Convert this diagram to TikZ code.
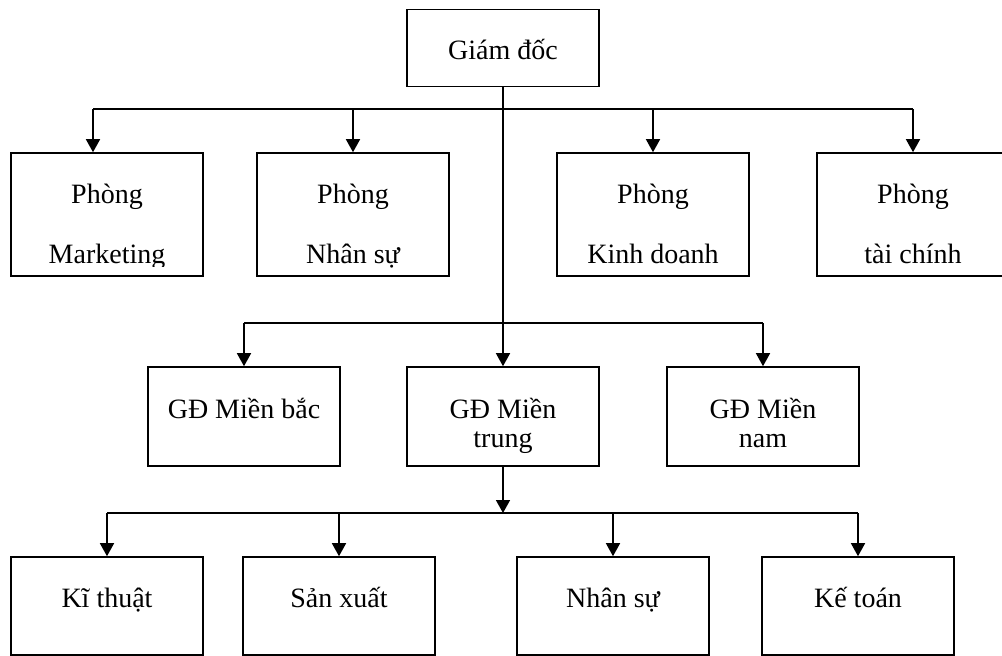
\documentclass[tikz,border=0pt]{standalone}
\usepackage{fontspec}
\setmainfont{Liberation Serif}
\usetikzlibrary{arrows.meta}
\begin{document}
\begin{tikzpicture}[x=1pt,y=-1pt,
  unit/.style={draw, line width=1.6pt, rectangle, inner sep=0pt},
  dept/.style={unit, minimum width=192pt, minimum height=123pt},
  region/.style={unit, minimum width=192pt, minimum height=99pt},
  team/.style={unit, minimum width=192pt, minimum height=98pt},
  lbl/.style={anchor=base, inner sep=0pt, font=\fontsize{28}{31}\selectfont},
  link/.style={line width=1.5pt},
  arr/.style={link, -{Triangle[width=14pt,length=13pt]}}]
\useasboundingbox (0,0) rectangle (1002,656);

% director
\node[unit, minimum width=192pt, minimum height=77pt] (gd) at (503,48) {};
\node[lbl] (gdt) at (503,59) {Giám đốc};

% departments
\node[dept] (mk) at (107,214.5) {};
\node[dept] (ns) at (353,214.5) {};
\node[dept] (kd) at (653,214.5) {};
\node[dept] (tc) at (913,214.5) {};
\begin{scope}
  \clip (11,153) rectangle (203,266.5);
  \node[lbl] (mk1) at (107,203) {Phòng};
  \node[lbl] (mk2) at (107,263) {Marketing};
\end{scope}
\node[lbl] (ns1) at (353,203) {Phòng};
\node[lbl] (ns2) at (353,263) {Nhân sự};
\node[lbl] (kd1) at (653,203) {Phòng};
\node[lbl] (kd2) at (653,263) {Kinh doanh};
\node[lbl] (tc1) at (913,203) {Phòng};
\node[lbl] (tc2) at (913,263) {tài chính};

% regional directors
\node[region] (mb) at (244,416.5) {};
\node[region] (mt) at (503,416.5) {};
\node[region] (mn) at (763,416.5) {};
\node[lbl] (mbt) at (244,418) {GĐ Miền bắc};
\node[lbl] (mt1) at (503,418) {GĐ Miền};
\node[lbl] (mt2) at (503,447) {trung};
\node[lbl] (mn1) at (763,418) {GĐ Miền};
\node[lbl] (mn2) at (763,447) {nam};

% central region teams
\node[team] (kt) at (107,606) {};
\node[team] (sx) at (339,606) {};
\node[team] (nsu) at (613,606) {};
\node[team] (kto) at (858,606) {};
\node[lbl] (ktt) at (107,607) {Kĩ thuật};
\node[lbl] (sxt) at (339,607) {Sản xuất};
\node[lbl] (nsut) at (613,607) {Nhân sự};
\node[lbl] (ktot) at (858,607) {Kế toán};

% bus lines
\coordinate (b1l) at (93,109);
\coordinate (b1r) at (913,109);
\coordinate (b2l) at (244,323);
\coordinate (b2r) at (763,323);
\coordinate (b3l) at (107,513);
\coordinate (b3r) at (858,513);

% director to departments
\draw[link] (b1l) -- (b1r);
\draw[arr] (b1l) -- (mk.north -| b1l);
\draw[arr] (ns.north |- b1l) -- (ns.north);
\draw[arr] (kd.north |- b1l) -- (kd.north);
\draw[arr] (b1r) -- (tc.north);

% director to regions
\draw[arr] (gd.south) -- (mt.north);
\draw[link] (b2l) -- (b2r);
\draw[arr] (b2l) -- (mb.north);
\draw[arr] (b2r) -- (mn.north);

% central region to teams
\draw[arr] (mt.south) -- (mt.south |- b3l);
\draw[link] (b3l) -- (b3r);
\draw[arr] (b3l) -- (kt.north);
\draw[arr] (sx.north |- b3l) -- (sx.north);
\draw[arr] (nsu.north |- b3l) -- (nsu.north);
\draw[arr] (b3r) -- (kto.north);
\end{tikzpicture}
\end{document}
